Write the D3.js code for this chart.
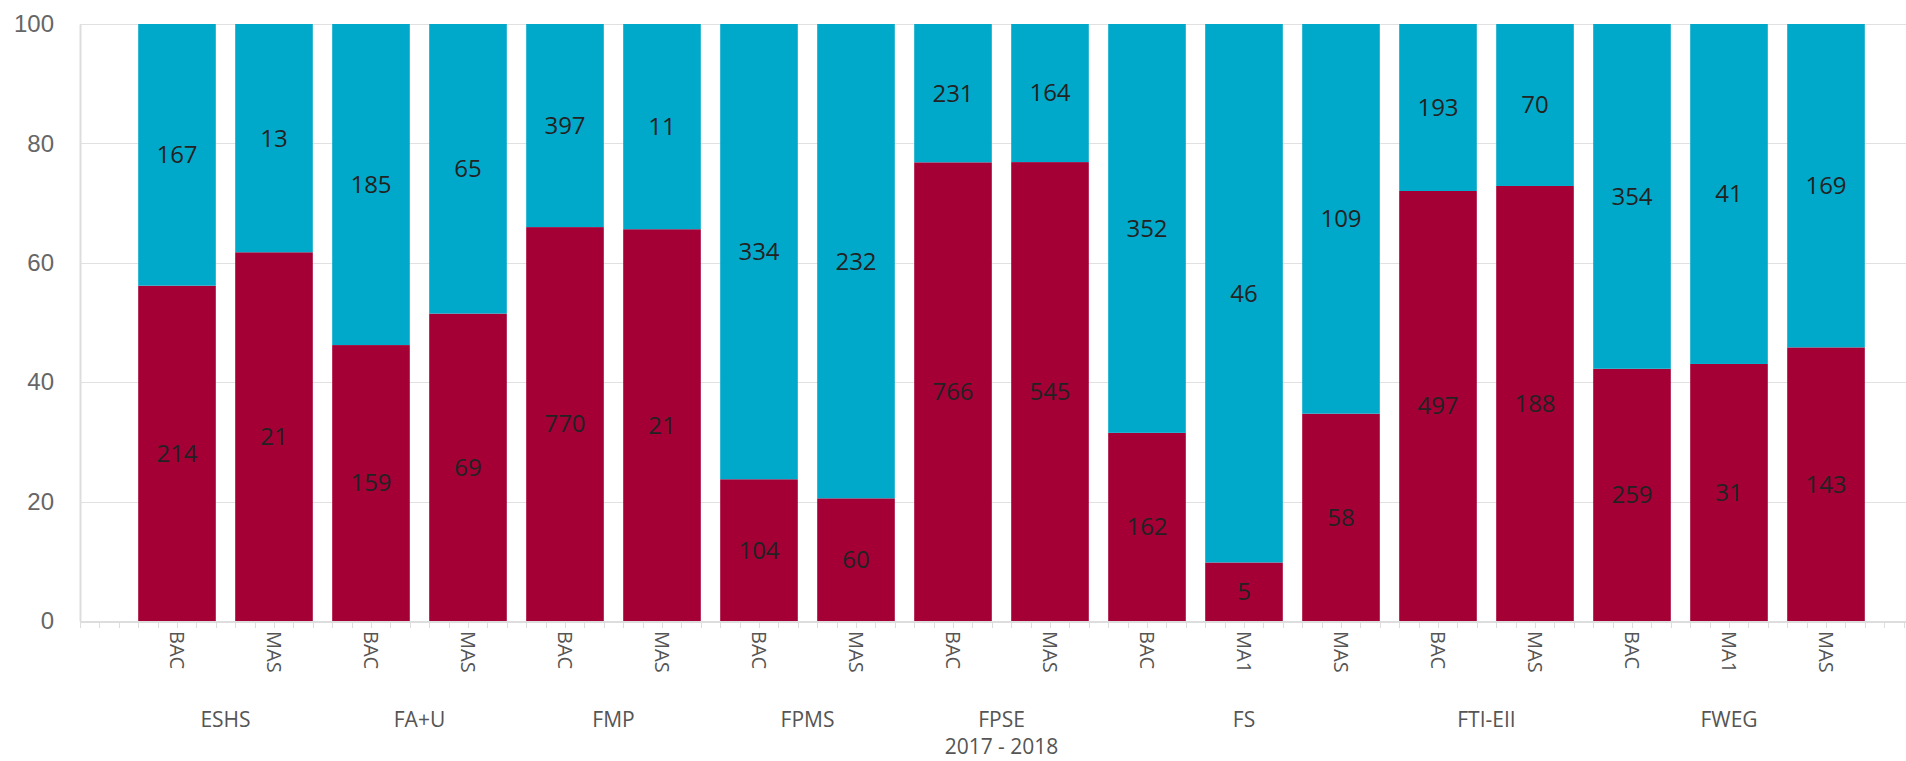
<!DOCTYPE html>
<html lang="en">
  <head>
    <meta charset="UTF-8">
    <script src="https://cdn.jsdelivr.net/npm/d3@7"></script>
    <style>
      body { margin: 0; background: #fff; }
      svg { display: block; font-family: 'Segoe UI', 'Open Sans', sans-serif; }
      .grid line { stroke: #e1e1e1; shape-rendering: crispEdges; }
      .y.axis text { fill: #666; font-size: 24px; }
      .x.axis text { fill: #555; font-size: 20px; }
      .group-label { fill: #555; font-size: 21px; }
      .value-label { fill: #222; font-size: 24px; }
    </style>
    <title>2017 - 2018</title>
  </head>
  <body>
    <script>
      // Data
      let groups    = ['ESHS', 'ESHS', 'FA+U', 'FA+U', 'FMP', 'FMP', 'FPMS', 'FPMS', 'FPSE', 'FPSE',
                       'FS', 'FS', 'FS', 'FTI-EII', 'FTI-EII', 'FWEG', 'FWEG', 'FWEG'];
      let levels    = ['BAC', 'MAS', 'BAC', 'MAS', 'BAC', 'MAS', 'BAC', 'MAS', 'BAC', 'MAS',
                       'BAC', 'MA1', 'MAS', 'BAC', 'MAS', 'BAC', 'MA1', 'MAS'];
      let bottomVals = [214, 21, 159, 69, 770, 21, 104, 60, 766, 545, 162, 5, 58, 497, 188, 259, 31, 143];
      let topVals    = [167, 13, 185, 65, 397, 11, 334, 232, 231, 164, 352, 46, 109, 193, 70, 354, 41, 169];
      let yTicks     = [0, 20, 40, 60, 80, 100];
      let axisTitle  = '2017 - 2018';

      let colors = ['#a50036', '#00a9ca'];

      let w = 1906;
      let h = 761;
      let padLeft = 80;
      let padTop = 24;
      let baseY = 621;

      let dataset = levels.map((lv, i) => {
        let total = bottomVals[i] + topVals[i];
        return { key: i, level: lv, group: groups[i],
                 b: bottomVals[i], t: topVals[i],
                 bp: bottomVals[i] / total * 100 };
      });

      let xScale = d3.scaleBand()
                     .domain(dataset.map(d => d.key))
                     .range([128.5, 1874.5])
                     .paddingInner(0.2)
                     .paddingOuter(0.1);
      let yScale = d3.scaleLinear()
                     .domain([0, 100])
                     .range([baseY, padTop]);

      let svg = d3.select('body')
                  .append('svg')
                  .attr('width', w)
                  .attr('height', h);

      // Gridlines
      svg.append('g')
         .attr('class', 'grid')
         .selectAll('line')
         .data(yTicks.slice(1))
         .enter()
         .append('line')
         .attr('x1', padLeft)
         .attr('x2', w)
         .attr('y1', d => Math.round(yScale(d)) + 0.5)
         .attr('y2', d => Math.round(yScale(d)) + 0.5);

      // y axis
      let yAxis = d3.axisLeft(yScale).tickValues(yTicks).tickSize(0).tickPadding(26);
      let yg = svg.append('g')
                  .attr('class', 'y axis')
                  .attr('transform', 'translate(' + padLeft + ',0)')
                  .call(yAxis);
      yg.select('.domain').attr('stroke', '#ddd').attr('stroke-width', 2);

      // Bars
      let bw = xScale.bandwidth();
      svg.selectAll('rect.bottom')
         .data(dataset)
         .enter()
         .append('rect')
         .attr('class', 'bottom')
         .attr('x', d => xScale(d.key))
         .attr('width', bw)
         .attr('y', d => yScale(d.bp))
         .attr('height', d => yScale(0) - yScale(d.bp))
         .attr('fill', colors[0]);
      svg.selectAll('rect.top')
         .data(dataset)
         .enter()
         .append('rect')
         .attr('class', 'top')
         .attr('x', d => xScale(d.key))
         .attr('width', bw)
         .attr('y', yScale(100))
         .attr('height', d => yScale(d.bp) - yScale(100))
         .attr('fill', colors[1]);

      // Value labels
      svg.selectAll('text.vb')
         .data(dataset)
         .enter()
         .append('text')
         .attr('class', 'value-label')
         .attr('text-anchor', 'middle')
         .attr('dy', '0.35em')
         .attr('x', d => xScale(d.key) + bw / 2)
         .attr('y', d => yScale(d.bp / 2))
         .text(d => d.b);
      svg.selectAll('text.vt')
         .data(dataset)
         .enter()
         .append('text')
         .attr('class', 'value-label')
         .attr('text-anchor', 'middle')
         .attr('dy', '0.35em')
         .attr('x', d => xScale(d.key) + bw / 2)
         .attr('y', d => yScale((d.bp + 100) / 2))
         .text(d => d.t);

      // x axis line + minor ticks
      let step = xScale.step();
      let x0 = xScale(0);
      let tickXs = d3.range(-15, 100).map(k => x0 + k * step / 5).filter(x => x >= padLeft - 0.5 && x <= w);
      let xg = svg.append('g').attr('class', 'x axis');
      xg.append('line')
        .attr('x1', padLeft).attr('x2', w)
        .attr('y1', baseY + 1).attr('y2', baseY + 1)
        .attr('stroke', '#ddd').attr('stroke-width', 2);
      xg.selectAll('line.tick')
        .data(tickXs)
        .enter()
        .append('line')
        .attr('x1', d => Math.round(d) + 0.5).attr('x2', d => Math.round(d) + 0.5)
        .attr('y1', baseY + 2).attr('y2', baseY + 7)
        .attr('stroke', '#ddd');

      // Rotated level labels
      xg.selectAll('text')
        .data(dataset)
        .enter()
        .append('text')
        .attr('transform', d => 'translate(' + (xScale(d.key) + bw / 2 - 7) + ',' + (baseY + 10) + ') rotate(90)')
        .attr('text-anchor', 'start')
        .text(d => d.level);

      // Group labels
      let groupNames = Array.from(new Set(groups));
      svg.selectAll('text.group-label')
         .data(groupNames)
         .enter()
         .append('text')
         .attr('class', 'group-label')
         .attr('text-anchor', 'middle')
         .attr('x', g => {
           let items = dataset.filter(d => d.group === g);
           let a = xScale(items[0].key);
           let b = xScale(items[items.length - 1].key) + bw;
           return (a + b) / 2;
         })
         .attr('y', 727)
         .text(g => g);

      svg.append('text')
         .attr('class', 'group-label')
         .attr('text-anchor', 'middle')
         .attr('x', (xScale(0) + xScale(dataset.length - 1) + bw) / 2)
         .attr('y', 754)
         .text(axisTitle);
    </script>
  </body>
</html>
